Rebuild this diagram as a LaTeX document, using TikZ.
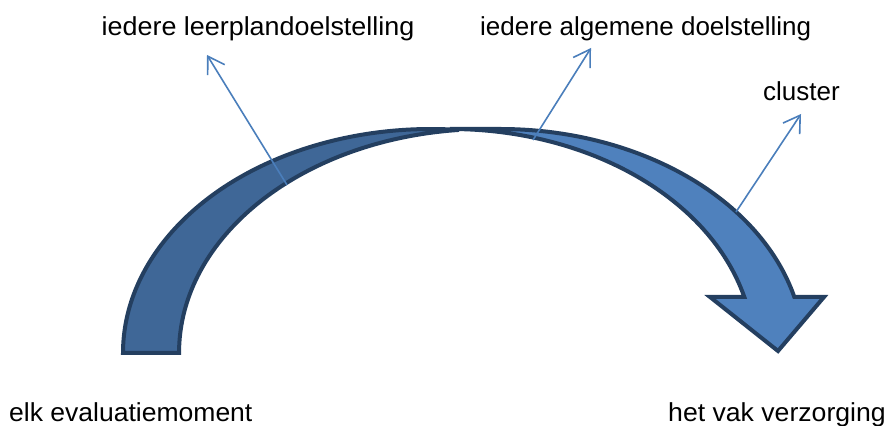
\documentclass[tikz,border=0pt]{standalone}
\usepackage{fontspec}
\setmainfont{Liberation Sans}
\usepackage{graphicx}
\usetikzlibrary{arrows.meta}
\definecolor{backfill}{HTML}{3F6797}
\definecolor{frontfill}{HTML}{4F81BD}
\definecolor{edgecol}{HTML}{243F60}
\definecolor{pointer}{HTML}{4A7EBB}
\begin{document}
\begin{tikzpicture}[x=1pt,y=1pt,
  band/.style={draw=edgecol, line width=4pt, line join=miter},
  pointerline/.style={draw=pointer, line width=1.6pt, -{Straight Barb[length=16pt,width=20pt]}},
  lbl/.style={anchor=base west, inner sep=0pt, font=\fontsize{26}{30}\selectfont}]
\useasboundingbox (0,0) rectangle (890,425);
% back (left) part of the curved arrow
\draw[band, fill=backfill] (123,72)
  arc[start angle=180, end angle=84.78, x radius=308, y radius=224]
  arc[start angle=95.22, end angle=180, x radius=308, y radius=224] -- cycle;
% front (right) part with arrow head
\draw[band, fill=frontfill] (778,74) -- (710,128) -- (744.3,128)
  arc[start angle=14.48, end angle=90, x radius=304, y radius=224]
  -- (500,296)
  arc[start angle=90, end angle=14.48, x radius=304, y radius=224]
  -- (824,128) -- cycle;
% labels
\node[lbl] (l1) at (101.5,389) {\scalebox{1.035}[1]{iedere leerplandoelstelling}};
\node[lbl] (l2) at (480,389) {iedere algemene doelstelling};
\node[lbl] (l3) at (763,324) {cluster};
\node[lbl] (l4) at (9,4) {\scalebox{1.02}[1]{elk evaluatiemoment}};
\node[lbl] (l5) at (668,4) {\scalebox{1.024}[1]{het vak verzorging}};
% pointer lines
\coordinate (p1) at (287,240);
\coordinate (t1) at (207,370);
\coordinate (p2) at (533,285);
\coordinate (t2) at (591,377);
\coordinate (p3) at (736,213);
\coordinate (t3) at (801,311);
\draw[pointerline] (p1) -- (t1);
\draw[pointerline] (p2) -- (t2);
\draw[pointerline] (p3) -- (t3);
\end{tikzpicture}
\end{document}
